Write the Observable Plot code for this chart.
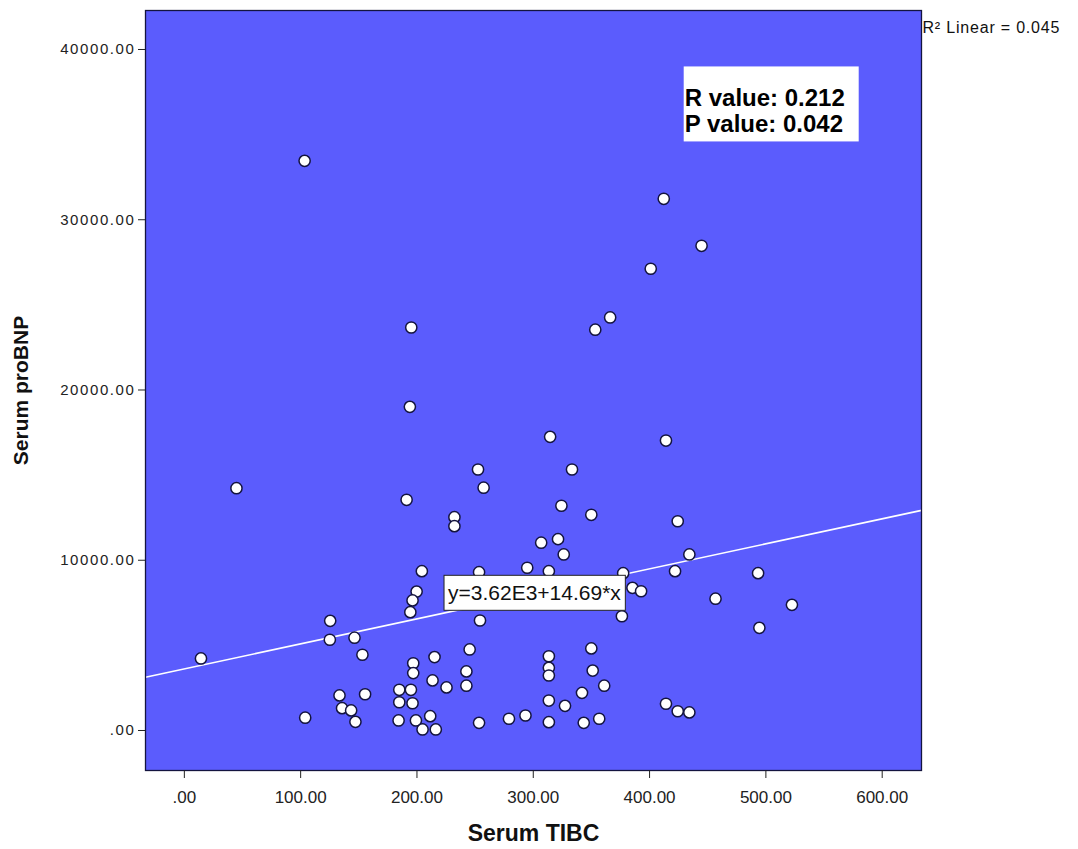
<!DOCTYPE html>
<html>
<head>
<meta charset="utf-8">
<script src="https://cdn.jsdelivr.net/npm/d3@7"></script>
<script src="https://cdn.jsdelivr.net/npm/@observablehq/plot@0.6"></script>
<style>
  body { margin: 0; background: #fff; }
  #chart { width: 1078px; height: 849px; }
  svg { font-family: Arial, "Liberation Sans", sans-serif; }
</style>
</head>
<body>
<div id="chart"></div>
<script>
// ---- data ----
const tibc = [
  103.4,412.2,444.7,401.0,366.1,353.3,195.1,193.9,314.5,414.1,
  252.5,333.3,257.3,44.8,191.1,324.2,349.9,424.2,232.2,232.2,
  306.8,321.3,326.2,434.2,204.2,253.4,294.8,313.4,377.3,421.9,
  493.3,385.3,392.7,456.7,522.4,494.4,199.7,196.2,194.3,254.2,
  376.2,125.4,125.1,146.3,153.1,14.3,245.3,215.1,196.8,196.8,
  242.5,213.4,225.4,242.5,313.4,313.4,313.4,349.9,351.1,361.0,
  341.9,313.4,327.3,184.8,194.8,184.8,196.2,184.2,199.1,211.4,
  204.8,216.2,253.4,279.1,293.3,313.4,343.4,356.7,414.1,424.2,
  434.2,133.4,135.6,143.4,155.4,147.1,103.9
];
const probnp = [
  33460,31230,28470,27120,24260,23540,23670,19010,17250,17030,
  15330,15330,14260,14230,13550,13200,12670,12290,12530,12000,
  11030,11240,10340,10340,9360,9300,9560,9360,9240,9360,
  9240,8380,8180,7740,7380,6030,8160,7640,6950,6460,
  6710,6440,5330,5450,4450,4230,4760,4310,3950,3370,
  3470,2940,2530,2630,4360,3680,3230,4820,3520,2630,
  2210,1760,1450,2390,2390,1660,1600,590,590,840,
  60,60,450,690,880,490,450,690,1570,1130,
  1060,2060,1310,1180,2130,510,750
];
const xTicks = [0, 100, 200, 300, 400, 500, 600];
const yTicks = [0, 10000, 20000, 30000, 40000];
const xDomain = [-33.4, 633.8];
const yDomain = [-2350, 42290];
const fitIntercept = 3620;
const fitSlope = 14.69;
const fitLabel = "y=3.62E3+14.69*x";
const fitLabelAt = [301];          // x value on the fit line where the equation sits
const statLines = ["R value: 0.212", "P value: 0.042"];
const statAt = [{x: 430.2, y: 36420}];
const r2Label = "R\u00B2 Linear = 0.045";
const xTitle = "Serum TIBC";
const yTitle = "Serum proBNP";

const points = tibc.map((x, i) => ({x, y: probnp[i]}));
const fmt = v => v === 0 ? ".00" : d3.format(".2f")(v);
const fit = x => fitIntercept + fitSlope * x;

const bg = "#5b5cfd";
const navy = "#14143f";

const plot = Plot.plot({
  width: 1078,
  height: 849,
  marginLeft: 145,
  marginRight: 157,
  marginTop: 10,
  marginBottom: 79,
  style: {fontFamily: 'Arial, "Liberation Sans", sans-serif', fontSize: "16px", color: "#222", background: "#fff"},
  x: {domain: xDomain},
  y: {domain: yDomain},
  marks: [
    Plot.frame({fill: bg}),
    Plot.line(xDomain, {x: d => d, y: d => fit(d), stroke: "white", strokeWidth: 1.6}),
    Plot.dot(points, {x: "x", y: "y", r: 5.6, fill: "white", stroke: navy, strokeWidth: 1.5}),
    Plot.text(fitLabelAt, {x: d => d, y: d => fit(d), text: () => fitLabel, fontSize: 21, fill: "#111", className: "eqlabel"}),
    Plot.text(statAt, {x: "x", y: "y", text: () => statLines.join("\n"), fontSize: 24, fontWeight: "bold", fill: "#000", textAnchor: "start", lineAnchor: "middle", lineHeight: 1.08, className: "statlabel"}),
    Plot.frame({stroke: navy, strokeWidth: 1.3}),
    Plot.axisX({ticks: xTicks, tickFormat: fmt, tickSize: 8, tickPadding: 12, label: null, fontSize: 17, stroke: "#222"}),
    Plot.axisY({ticks: yTicks, tickFormat: fmt, tickSize: 7, tickPadding: 3, label: null, fontSize: 15, stroke: "#222", className: "yticks"}),
    Plot.text([xTitle], {frameAnchor: "bottom", dy: 63, text: d => d, fontSize: 23, fontWeight: "bold", fill: "#111", textAnchor: "middle", lineAnchor: "middle"}),
    Plot.text([yTitle], {frameAnchor: "left", dx: -124, rotate: -90, text: d => d, fontSize: 21, fontWeight: "bold", fill: "#111", textAnchor: "middle", lineAnchor: "middle"}),
    Plot.text([r2Label], {frameAnchor: "top-right", dx: 1, dy: 17, textAnchor: "start", lineAnchor: "middle", text: d => d, fontSize: 16, fill: "#111", className: "r2label"})
  ]
});

document.getElementById("chart").appendChild(plot);

// white box behind the equation label (fit to its text)
d3.select(plot).selectAll("g.eqlabel text").each(function() {
  const b = this.getBBox();
  d3.select(this.parentNode).insert("rect", () => this)
    .attr("x", b.x - 4).attr("y", b.y - 6)
    .attr("width", b.width + 8).attr("height", b.height + 12)
    .attr("transform", this.getAttribute("transform"))
    .attr("fill", "white").attr("stroke", "#222").attr("stroke-width", 1);
});
// white panel behind the statistics text
d3.select(plot).selectAll("g.statlabel text").each(function() {
  d3.select(this.parentNode).insert("rect", () => this)
    .attr("x", -1).attr("y", -44)
    .attr("width", 175).attr("height", 75)
    .attr("transform", this.getAttribute("transform"))
    .attr("fill", "white");
});
// wider spacing on tick labels / R² label, as in the reference
d3.select(plot).selectAll("g.yticks text").style("letter-spacing", "1.6px");
d3.select(plot).selectAll("g.r2label text").style("letter-spacing", "0.8px");
</script>
</body>
</html>
